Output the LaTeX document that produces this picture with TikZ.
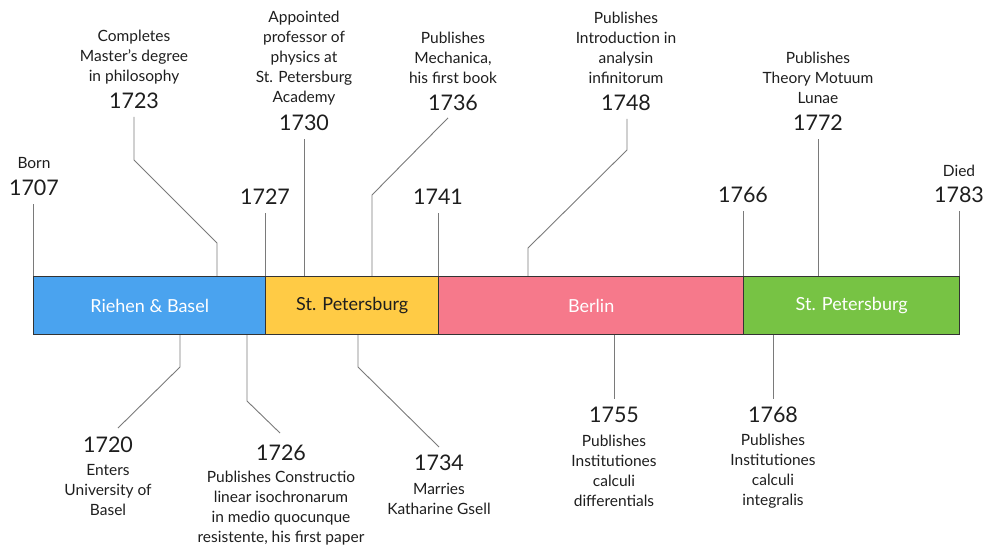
\documentclass[tikz,border=0pt]{standalone}
\usepackage{fontspec}
\setmainfont{Lato}
\definecolor{basel}{HTML}{4AA3EF}
\definecolor{petersA}{HTML}{FFCB45}
\definecolor{berlin}{HTML}{F6798B}
\definecolor{petersB}{HTML}{77C344}
\definecolor{barline}{HTML}{333333}
\definecolor{tickgray}{HTML}{7A7A7A}
\definecolor{ink}{HTML}{1E1E1E}
\begin{document}
\begin{tikzpicture}[x=1pt,y=-1pt,
  era/.style={draw=barline,line width=1.4pt,minimum height=58pt,inner sep=0pt,
    font=\fontsize{18}{20}\selectfont},
  desc/.style={align=center,text=ink,inner sep=0pt,
    font=\fontsize{15.5}{20}\selectfont},
  yr/.style={text=ink,inner sep=0pt,outer ysep=8pt,
    font=\fontsize{21.5}{24}\selectfont},
  tick/.style={draw=tickgray,line width=0.9pt}]
\useasboundingbox (0,0) rectangle (986,547);

% tick points on the bar edges
\coordinate (t1707) at (33,276);
\coordinate (t1723) at (217,276);
\coordinate (t1727) at (265,276);
\coordinate (t1730) at (304,276);
\coordinate (t1736) at (372,276);
\coordinate (t1741) at (438,276);
\coordinate (t1748) at (528,276);
\coordinate (t1766) at (743,276);
\coordinate (t1772) at (818,276);
\coordinate (t1783) at (959,276);
\coordinate (b1720) at (180,335);
\coordinate (b1726) at (247,335);
\coordinate (b1734) at (358,335);
\coordinate (b1755) at (614,335);
\coordinate (b1768) at (773,335);

% ---- years and event texts above the bar ----
\node[desc] (d1707) at (34,163) {Born};
\node[yr]   (y1707) at (34,188) {1707};

\node[desc] (d1723) at (134,57) {Completes\\Master's degree\\in philosophy};
\node[yr]   (y1723) at (134,101) {1723};

\node[yr]   (y1727) at (265,197) {1727};

\node[desc] (d1730) at (304,58) {Appointed\\professor of\\physics at\\St. Petersburg\\Academy};
\node[yr]   (y1730) at (304,123) {1730};

\node[desc] (d1736) at (453,58) {Publishes\\Mechanica,\\his first book};
\node[yr]   (y1736) at (453,103) {1736};

\node[yr]   (y1741) at (438,197) {1741};

\node[desc] (d1748) at (626,48) {Publishes\\Introduction in\\analysin\\infinitorum};
\node[yr]   (y1748) at (626,103) {1748};

\node[yr]   (y1766) at (743,195) {1766};

\node[desc] (d1772) at (818,78) {Publishes\\Theory Motuum\\Lunae};
\node[yr]   (y1772) at (818,123) {1772};

\node[desc] (d1783) at (959,171) {Died};
\node[yr]   (y1783) at (959,195) {1783};

% ---- years and event texts below the bar ----
\node[yr]   (y1720) at (108,445) {1720};
\node[desc] (d1720) at (108,490) {Enters\\University of\\Basel};

\node[yr]   (y1726) at (281,453) {1726};
\node[desc] (d1726) at (281,508) {Publishes Constructio\\linear isochronarum\\in medio quocunque\\resistente, his first paper};

\node[yr]   (y1734) at (439,463) {1734};
\node[desc] (d1734) at (439,499) {Marries\\Katharine Gsell};

\node[yr]   (y1755) at (614,415) {1755};
\node[desc] (d1755) at (614,471) {Publishes\\Institutiones\\calculi\\differentials};

\node[yr]   (y1768) at (773,415) {1768};
\node[desc] (d1768) at (773,471) {Publishes\\Institutiones\\calculi\\integralis};

% ---- leader lines ----
\draw[tick] (t1707) -- (t1707 |- y1707.south);
\draw[tick] (y1723.south) -- (134,160) -- (217,243) -- (t1723);
\draw[tick] (t1727) -- (t1727 |- y1727.south);
\draw[tick] (t1730) -- (t1730 |- y1730.south);
\draw[tick] ([xshift=-5pt,yshift=1pt]y1736.south) -- (372,195) -- (t1736);
\draw[tick] ([xshift=1pt]y1748.south) -- (627,150) -- (528,248) -- (t1748);
\draw[tick] (t1741) -- (t1741 |- y1741.south);
\draw[tick] (t1766) -- (t1766 |- y1766.south);
\draw[tick] (t1772) -- (t1772 |- y1772.south);
\draw[tick] (t1783) -- (t1783 |- y1783.south);

\draw[tick] (b1720) -- (180,367) -- (118,428);
\draw[tick] (b1726) -- (247,401) -- (280,433);
\draw[tick] (b1734) -- (358,367) -- (439,447);
\draw[tick] (b1755) -- (b1755 |- y1755.north);
\draw[tick] (b1768) -- (b1768 |- y1768.north);

% ---- the bar of places ----
\node[era,fill=basel,text=white,minimum width=232pt,anchor=north west] (riehen) at (33,276) {Riehen \& Basel};
\node[era,fill=petersA,text=ink,minimum width=173pt,anchor=north west] (peter1) at (265,276) {St. Petersburg};
\node[era,fill=berlin,text=white,minimum width=305pt,anchor=north west] (berlinbox) at (438,276) {Berlin};
\node[era,fill=petersB,text=white,minimum width=216pt,anchor=north west] (peter2) at (743,276) {St. Petersburg};
\end{tikzpicture}
\end{document}
